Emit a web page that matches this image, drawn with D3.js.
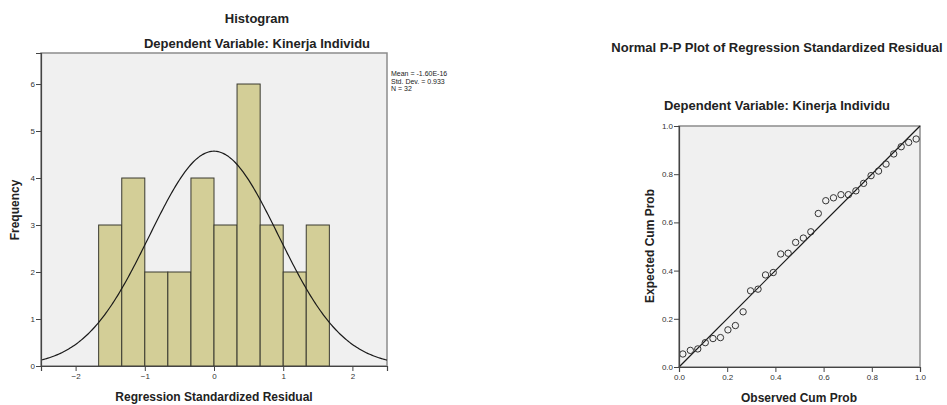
<!DOCTYPE html>
<html>
<head>
<meta charset="utf-8">
<script src="https://cdn.jsdelivr.net/npm/d3@7"></script>
<style>
  body { margin: 0; background: #fff; }
  svg { display: block; font-family: "Liberation Sans", Arial, sans-serif; }
</style>
</head>
<body>
<div id="vis"></div>
<script>
// Datos del histograma
const binLower = [-1.667, -1.333, -1.0, -0.667, -0.333, 0.0, 0.333, 0.667, 1.0, 1.333];
const binUpper = [-1.333, -1.0, -0.667, -0.333, 0.0, 0.333, 0.667, 1.0, 1.333, 1.667];
const frecuencias = [3, 4, 2, 2, 4, 3, 6, 3, 2, 3];
const histTicksX = [-2, -1, 0, 1, 2];
const histTicksY = [0, 1, 2, 3, 4, 5, 6];
const statsLabels = ["Mean = -1.60E-16", "Std. Dev. = 0.933", "N = 32"];
const curvaMedia = 0;
const curvaDesv = 0.933;
const curvaN = 32;

// Datos del P-P plot
const observado = [0.016, 0.047, 0.078, 0.109, 0.141, 0.172, 0.203, 0.234, 0.266, 0.297, 0.328,
  0.359, 0.391, 0.422, 0.453, 0.484, 0.516, 0.547, 0.578, 0.609, 0.641, 0.672, 0.703, 0.734,
  0.766, 0.797, 0.828, 0.859, 0.891, 0.922, 0.953, 0.984];
const esperado = [0.054, 0.069, 0.075, 0.101, 0.118, 0.122, 0.154, 0.172, 0.229, 0.316, 0.323,
  0.382, 0.392, 0.469, 0.472, 0.517, 0.535, 0.561, 0.637, 0.690, 0.702, 0.715, 0.715, 0.731,
  0.762, 0.794, 0.813, 0.842, 0.884, 0.914, 0.932, 0.946];
const ppTicks = [0, 0.2, 0.4, 0.6, 0.8, 1.0];

const ancho = 947;
const alto = 405;

const svg = d3.select("#vis")
  .append("svg")
  .attr("width", ancho)
  .attr("height", alto);

const colorTexto = "#222";
const colorMarco = "#8c8c8c";

// ---------- Histograma ----------
const h = { izq: 41, der: 387, sup: 53, inf: 366 };

const escalaX = d3.scaleLinear().domain([-2.5, 2.5]).range([h.izq, h.der]);
const escalaY = d3.scaleLinear().domain([0, 6.66]).range([h.inf, h.sup]);

svg.append("rect")
  .attr("x", h.izq).attr("y", h.sup)
  .attr("width", h.der - h.izq).attr("height", h.inf - h.sup)
  .attr("fill", "#f0f0f0")
  .attr("stroke", colorMarco)
  .attr("stroke-width", 1.5);

svg.append("clipPath").attr("id", "clip-hist")
  .append("rect")
  .attr("x", h.izq).attr("y", h.sup)
  .attr("width", h.der - h.izq).attr("height", h.inf - h.sup);

svg.selectAll(".barra")
  .data(frecuencias)
  .enter()
  .append("rect")
  .attr("class", "barra")
  .attr("x", (d, i) => escalaX(binLower[i]))
  .attr("y", d => escalaY(d))
  .attr("width", (d, i) => escalaX(binUpper[i]) - escalaX(binLower[i]))
  .attr("height", d => escalaY(0) - escalaY(d))
  .attr("fill", "#d3ce97")
  .attr("stroke", "#3a3a30")
  .attr("stroke-width", 1);

// curva normal con la media, desv. y N del gráfico
const anchoBin = binUpper[0] - binLower[0];
const densidad = x => curvaN * anchoBin / (curvaDesv * Math.sqrt(2 * Math.PI)) *
  Math.exp(-0.5 * Math.pow((x - curvaMedia) / curvaDesv, 2));

const puntosCurva = d3.range(-2.5, 2.5001, 0.02).map(x => [x, densidad(x)]);

svg.append("path")
  .attr("d", d3.line().x(d => escalaX(d[0])).y(d => escalaY(d[1]))(puntosCurva))
  .attr("fill", "none")
  .attr("stroke", "#1a1a1a")
  .attr("stroke-width", 1.2)
  .attr("clip-path", "url(#clip-hist)");

// ejes
const ejeXHist = svg.append("g")
  .attr("transform", `translate(0,${h.inf})`)
  .call(d3.axisBottom(escalaX).tickValues(histTicksX).tickSize(5).tickPadding(2).tickFormat(d3.format("d")));

const ejeYHist = svg.append("g")
  .attr("transform", `translate(${h.izq},0)`)
  .call(d3.axisLeft(escalaY).tickValues(histTicksY).tickSize(5).tickPadding(1).tickFormat(d3.format("d")));

// ---------- P-P plot ----------
const p = { izq: 679, der: 920, sup: 126, inf: 367 };

const escalaPX = d3.scaleLinear().domain([0, 1]).range([p.izq, p.der]);
const escalaPY = d3.scaleLinear().domain([0, 1]).range([p.inf, p.sup]);

svg.append("rect")
  .attr("x", p.izq).attr("y", p.sup)
  .attr("width", p.der - p.izq).attr("height", p.inf - p.sup)
  .attr("fill", "#f0f0f0")
  .attr("stroke", colorMarco)
  .attr("stroke-width", 1.5);

svg.append("line")
  .attr("x1", escalaPX(0)).attr("y1", escalaPY(0))
  .attr("x2", escalaPX(1)).attr("y2", escalaPY(1))
  .attr("stroke", "#1a1a1a")
  .attr("stroke-width", 1.2);

svg.selectAll(".punto")
  .data(observado)
  .enter()
  .append("circle")
  .attr("class", "punto")
  .attr("cx", d => escalaPX(d))
  .attr("cy", (d, i) => escalaPY(esperado[i]))
  .attr("r", 3.2)
  .attr("fill", "none")
  .attr("stroke", "#333")
  .attr("stroke-width", 1);

const ejeXPP = svg.append("g")
  .attr("transform", `translate(0,${p.inf})`)
  .call(d3.axisBottom(escalaPX).tickValues(ppTicks).tickSize(5).tickPadding(2).tickFormat(d3.format(".1f")));

const ejeYPP = svg.append("g")
  .attr("transform", `translate(${p.izq},0)`)
  .call(d3.axisLeft(escalaPY).tickValues(ppTicks).tickSize(5).tickPadding(1).tickFormat(d3.format(".1f")));

// Estilo de los ejes
[ejeXHist, ejeYHist, ejeXPP, ejeYPP].forEach(eje => {
  eje.select("path.domain").attr("stroke", "#444").attr("stroke-width", 1.2);
  eje.selectAll("g.tick line").attr("stroke", "#444");
  eje.selectAll("g.tick text")
    .attr("fill", "#333")
    .style("font-size", "8px")
    .style("font-family", "'Liberation Sans', Arial, sans-serif");
});

// ---------- Textos ----------
function texto(x, y, t, size, peso, rot) {
  const el = svg.append("text")
    .attr("text-anchor", "middle")
    .attr("font-size", size)
    .attr("font-weight", peso)
    .attr("fill", colorTexto)
    .text(t);
  if (rot) el.attr("transform", `translate(${x},${y}) rotate(-90)`);
  else el.attr("x", x).attr("y", y);
  return el;
}

texto(257, 23, "Histogram", "13px", "bold");
texto(257, 48, "Dependent Variable: Kinerja Individu", "13px", "bold");
texto(214, 401, "Regression Standardized Residual", "12px", "bold");
texto(19, 210, "Frequency", "12px", "bold", true);

svg.selectAll(".stat")
  .data(statsLabels)
  .enter()
  .append("text")
  .attr("class", "stat")
  .attr("x", 391)
  .attr("y", (d, i) => 76 + i * 7.5)
  .attr("font-size", "7px")
  .attr("fill", colorTexto)
  .text(d => d);

texto(777, 52, "Normal P-P Plot of Regression Standardized Residual", "13px", "bold");
texto(777, 110, "Dependent Variable: Kinerja Individu", "13px", "bold");
texto(799, 402, "Observed Cum Prob", "12px", "bold");
texto(654, 246, "Expected Cum Prob", "12px", "bold", true);
</script>
</body>
</html>
